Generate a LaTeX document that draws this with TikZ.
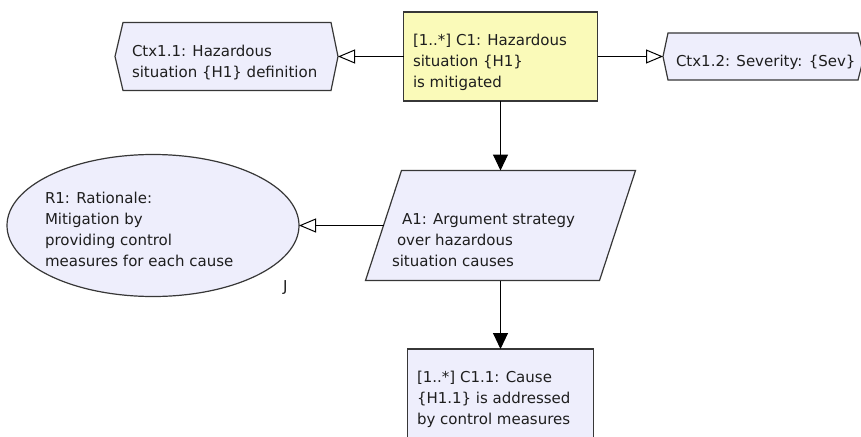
\documentclass[tikz,border=0pt]{standalone}
\usepackage{fontspec}
\setmainfont{DejaVu Sans}
\usetikzlibrary{arrows.meta,shapes.geometric}
\definecolor{lav}{RGB}{238,238,252}
\definecolor{yel}{RGB}{250,250,185}
\definecolor{bord}{RGB}{55,55,55}
\definecolor{txtc}{RGB}{30,30,30}
\tikzset{
  shapebox/.style={draw=none, inner sep=0pt, outer sep=0pt},
  outline/.style={draw=bord, line width=1.2pt, line join=miter},
  txt/.style={inner sep=0pt, outer sep=0pt, anchor=north west, align=left, text=txtc,
    font=\fontsize{15}{21}\selectfont},
  solidarrow/.style={draw=black, line width=1pt, -{Triangle[length=16pt,width=15pt]}},
  openarrow/.style={draw=black, line width=1pt, -{Triangle[open,length=17pt,width=14pt,fill=white]}}
}
\begin{document}
\begin{tikzpicture}[x=1pt,y=-1pt]
\useasboundingbox (0,0) rectangle (861,436);
\fill[white] (0,0) rectangle (861,436);

% C1 goal
\node[rectangle, draw=bord, fill=yel, line width=1.2pt, minimum width=194pt, minimum height=89pt, inner sep=0pt, outer sep=0pt] (c1) at (500.5,56.5) {};
\node[txt] (c1t) at (413,34.5) {[1..*] C1: Hazardous\\situation \{H1\}\\is mitigated};

% Ctx1.1
\node[shapebox, minimum width=208pt, minimum height=68pt] (ctx11) at (227,56.5) {};
\path[outline, fill=lav] (ctx11.north west) -- (ctx11.north east) -- ([xshift=7pt]ctx11.east)
  -- (ctx11.south east) -- (ctx11.south west) -- ([xshift=-8pt]ctx11.west) -- cycle;
\node[txt] (ctx11t) at (132,45.5) {Ctx1.1: Hazardous\\situation \{H1\} definition};

% Ctx1.2
\node[shapebox, minimum width=190pt, minimum height=47pt] (ctx12) at (763,56.5) {};
\path[outline, fill=lav] (ctx12.north west) -- (ctx12.north east) -- ([xshift=6pt]ctx12.east)
  -- (ctx12.south east) -- (ctx12.south west) -- ([xshift=-5pt]ctx12.west) -- cycle;
\node[txt] (ctx12t) at (676,55.5) {Ctx1.2: Severity: \{Sev\}};

% A1 strategy
\node[shapebox, minimum width=234pt, minimum height=110pt] (a1) at (500.5,225.5) {};
\path[outline, fill=lav] ([xshift=18pt]a1.north west) -- ([xshift=18pt]a1.north east)
  -- ([xshift=-18pt]a1.south east) -- ([xshift=-18pt]a1.south west) -- cycle;
\node[txt] (a1t) at (392,214) {\hspace*{10pt}A1: Argument strategy\\\hspace*{5pt}over hazardous\\situation causes};

% R1 rationale
\node[ellipse, draw=bord, fill=lav, line width=1.2pt, minimum width=292pt, minimum height=142pt, inner sep=0pt, outer sep=0pt] (r1) at (153,225.5) {};
\node[txt] (r1t) at (45,192) {R1: Rationale:\\Mitigation by\\providing control\\measures for each cause};
\node[txt] (jmark) at (283,280.5) {J};

% C1.1
\node[rectangle, draw=bord, fill=lav, line width=1.2pt, minimum width=186pt, minimum height=110pt, inner sep=0pt, outer sep=0pt, anchor=north] (c11) at (500.5,349) {};
\node[txt] (c11t) at (417,371.5) {[1..*] C1.1: Cause\\\{H1.1\} is addressed\\by control measures};

% connectors
\draw[openarrow] (c1.west) -- ([xshift=7pt]ctx11.east);
\draw[openarrow] (c1.east) -- ([xshift=-5pt]ctx12.west);
\draw[solidarrow] (c1.south) -- (a1.north);
\draw[openarrow] (a1.west) -- (r1.east);
\draw[solidarrow] (a1.south) -- (c11.north);
\end{tikzpicture}
\end{document}
